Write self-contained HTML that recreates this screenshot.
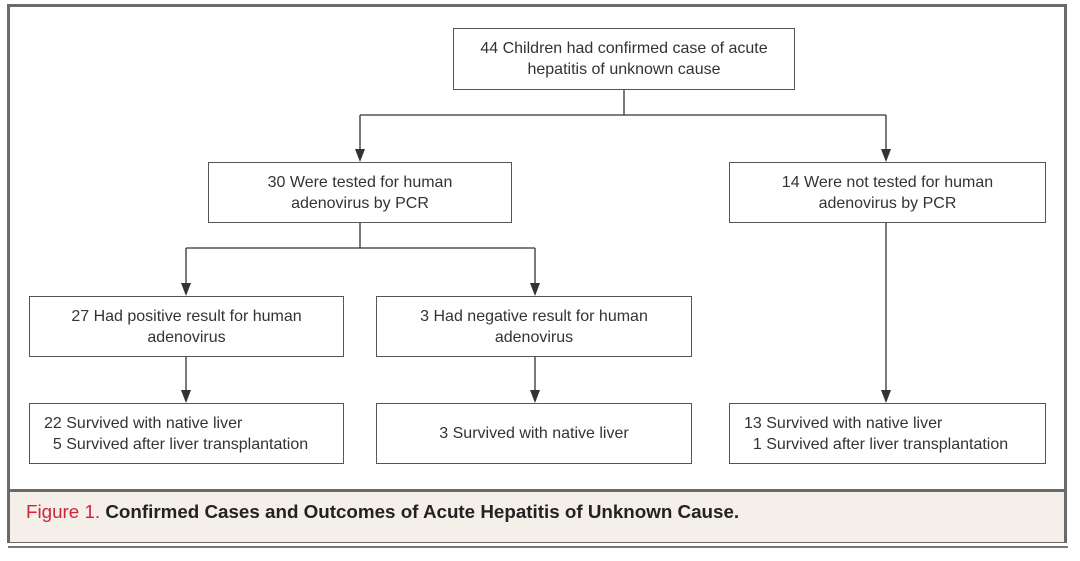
<!DOCTYPE html>
<html><head><style>
body{margin:0;width:1080px;height:561px;background:#fff;position:relative;overflow:hidden;font-family:"Liberation Sans",sans-serif;}
.frame{position:absolute;left:7px;top:4px;width:1054px;height:533px;border:3px solid #6a6a6a;}
.cap{position:absolute;left:10px;top:489px;width:1054px;height:50px;background:#f4efe8;border-top:3px solid #6a6a6a;}
.cap span{position:absolute;left:16px;top:9px;font-size:18.8px;font-weight:bold;color:#222;}
.cap b{color:#d0243a;font-weight:normal}
.line{position:absolute;left:8px;top:546px;width:1060px;height:2px;background:#777;}
.box{position:absolute;border:1px solid #555;box-sizing:border-box;display:flex;align-items:center;justify-content:center;text-align:center;font-size:16px;color:#333;line-height:21px;background:#fff;}
.l{text-align:left;justify-content:flex-start;padding-left:14px;}
</style></head><body>
<div class="frame"></div>
<svg width="1080" height="561" style="position:absolute;left:0;top:0">
<g stroke="#333" stroke-width="1.3" fill="none">
<line x1="624" y1="89" x2="624" y2="115"/>
<line x1="360" y1="115" x2="886" y2="115"/>
<line x1="360" y1="115" x2="360" y2="152"/>
<line x1="886" y1="115" x2="886" y2="152"/>
<line x1="360" y1="222" x2="360" y2="248"/>
<line x1="186" y1="248" x2="535" y2="248"/>
<line x1="186" y1="248" x2="186" y2="286"/>
<line x1="535" y1="248" x2="535" y2="286"/>
<line x1="186" y1="356" x2="186" y2="393"/>
<line x1="535" y1="356" x2="535" y2="393"/>
<line x1="886" y1="222" x2="886" y2="393"/>
</g>
<g fill="#333">
<path d="M355,149 L365,149 L360,162z"/>
<path d="M881,149 L891,149 L886,162z"/>
<path d="M181,283 L191,283 L186,296z"/>
<path d="M530,283 L540,283 L535,296z"/>
<path d="M181,390 L191,390 L186,403z"/>
<path d="M530,390 L540,390 L535,403z"/>
<path d="M881,390 L891,390 L886,403z"/>
</g></svg>
<div class="box" style="left:453px;top:28px;width:342px;height:62px">44 Children had confirmed case of acute<br>hepatitis of unknown cause</div>
<div class="box" style="left:208px;top:162px;width:304px;height:61px">30 Were tested for human<br>adenovirus by PCR</div>
<div class="box" style="left:729px;top:162px;width:317px;height:61px">14 Were not tested for human<br>adenovirus by PCR</div>
<div class="box" style="left:29px;top:296px;width:315px;height:61px">27 Had positive result for human<br>adenovirus</div>
<div class="box" style="left:376px;top:296px;width:316px;height:61px">3 Had negative result for human<br>adenovirus</div>
<div class="box l" style="left:29px;top:403px;width:315px;height:61px">22 Survived with native liver<br>&nbsp;&nbsp;5 Survived after liver transplantation</div>
<div class="box" style="left:376px;top:403px;width:316px;height:61px">3 Survived with native liver</div>
<div class="box l" style="left:729px;top:403px;width:317px;height:61px">13 Survived with native liver<br>&nbsp;&nbsp;1 Survived after liver transplantation</div>
<div class="cap"><span><b>Figure 1.</b> Confirmed Cases and Outcomes of Acute Hepatitis of Unknown Cause.</span></div>
<div class="line"></div>
</body></html>
